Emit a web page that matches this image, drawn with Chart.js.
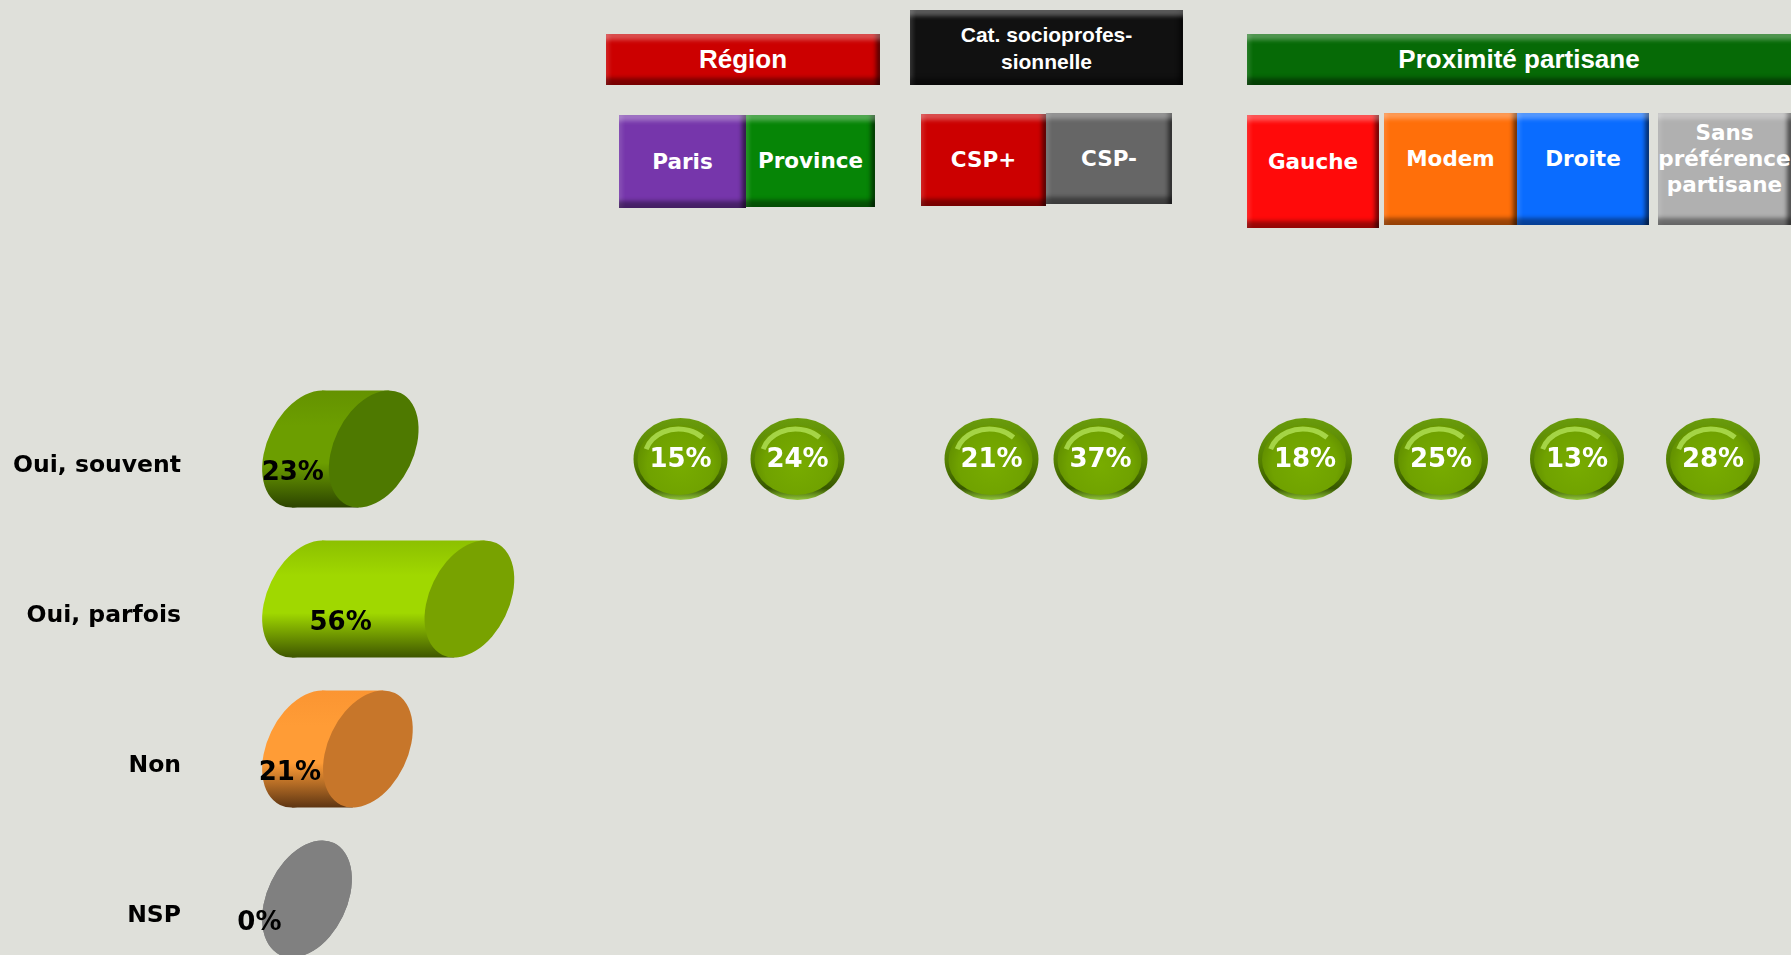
<!DOCTYPE html>
<html lang="fr">
<head>
<meta charset="utf-8">
<title>Oui souvent / parfois</title>
<script src="https://cdn.jsdelivr.net/npm/chart.js@4"></script>
<style>
  html, body { margin: 0; padding: 0; }
  body { background: #dfe0da; }
  #page { position: relative; width: 1791px; height: 955px; overflow: hidden; background: #dfe0da; }
  .box {
    position: absolute; box-sizing: border-box; color: #fff; text-align: center;
    display: flex; align-items: center; justify-content: center; overflow: hidden;
    box-shadow: inset 0 9px 4px -3px rgba(255,255,255,0.3),
                inset 0 -10px 4px -3px rgba(0,0,0,0.4),
                inset -7px 0 4px -3px rgba(0,0,0,0.55),
                inset 6px 0 4px -3px rgba(255,255,255,0.14);
  }
  .head { font: bold 26px "Liberation Sans", Arial, sans-serif; }
  .sub { font: bold 21.5px "DejaVu Sans", Verdana, sans-serif; line-height: 26px; }
  .parti { padding-bottom: 20px; }
  canvas { position: absolute; }
</style>
</head>
<body>
<div id="page">
  <div class="box head" style="left:606px;top:34px;width:274px;height:51px;background:#cc0000">Région</div>
  <div class="box head" style="left:910px;top:10px;width:273px;height:75px;background:#111;font-size:21px;line-height:27px">Cat. socioprofes-<br>sionnelle</div>
  <div class="box head" style="left:1247px;top:34px;width:560px;height:51px;background:#066a06;padding-right:16px">Proximité partisane</div>

  <div class="box sub" style="left:619px;top:115px;width:127px;height:93px;background:#7636ab">Paris</div>
  <div class="box sub" style="left:746px;top:115px;width:129px;height:92px;background:#068506">Province</div>
  <div class="box sub" style="left:921px;top:114px;width:125px;height:92px;background:#cc0000">CSP+</div>
  <div class="box sub" style="left:1046px;top:113px;width:126px;height:91px;background:#666">CSP-</div>
  <div class="box sub parti" style="left:1247px;top:115px;width:132px;height:113px;background:#ff0a0a">Gauche</div>
  <div class="box sub parti" style="left:1384px;top:113px;width:133px;height:112px;background:#ff6f0a">Modem</div>
  <div class="box sub parti" style="left:1517px;top:113px;width:132px;height:112px;background:#0a6cff">Droite</div>
  <div class="box sub parti" style="left:1658px;top:113px;width:133px;height:112px;background:#b0b0b0">Sans<br>préférence<br>partisane</div>

  <canvas id="totalChart" width="597" height="600" style="left:0;top:374px"></canvas>
  <canvas id="regionChart" width="234" height="600" style="left:622px;top:384px"></canvas>
  <canvas id="cspChart" width="218" height="600" style="left:937px;top:384px"></canvas>
  <canvas id="partiChart" width="544" height="600" style="left:1237px;top:384px"></canvas>
</div>

<script>
// réponses et résultats d'ensemble (%)
const answers = ['Oui, souvent', 'Oui, parfois', 'Non', 'NSP'];
const totals = [23, 56, 21, 0];

// "Oui, souvent" par sous-population (%)
const regionLabels = ['Paris', 'Province'];
const regionSouvent = [15, 24];
const cspLabels = ['CSP+', 'CSP-'];
const cspSouvent = [21, 37];
const partiLabels = ['Gauche', 'Modem', 'Droite', 'Sans préférence partisane'];
const partiSouvent = [18, 25, 13, 28];

// couleurs des cylindres : [haut, milieu, bas, face avant]
const cylColors = [
    ['#649200', '#6c9e00', '#2c4400', '#4e7900'],
    ['#8cc000', '#a0d800', '#3e5600', '#78a200'],
    ['#fb9532', '#ff9c36', '#5e3512', '#c7762a'],
    ['#808080', '#808080', '#808080', '#808080']
];

const TILT = 0.45;

// demi-axes d'une ellipse inclinee pour une boite hw x hh
function ellipseAxes(hw, hh) {
    const c2 = Math.cos(TILT) ** 2, s2 = Math.sin(TILT) ** 2;
    const det = c2 * c2 - s2 * s2;
    const a = Math.sqrt((hw * hw * c2 - hh * hh * s2) / det);
    const b = Math.sqrt((hh * hh * c2 - hw * hw * s2) / det);
    return [a, b];
}

function bottomPoint(a, b) {
    const c = Math.cos(TILT), s = Math.sin(TILT);
    const t = Math.atan2(b * c, a * s);
    return [a * Math.cos(t) * c - b * Math.sin(t) * s, a * Math.cos(t) * s + b * Math.sin(t) * c];
}

const cylinderPlugin = {
    id: 'cylinders',
    afterDatasetsDraw(chart) {
        const ctx = chart.ctx;
        const meta = chart.getDatasetMeta(0);
        meta.data.forEach((bar, i) => {
            const hh = bar.height / 2;
            const hw = hh * 0.767;
            const [a, b] = ellipseAxes(hw, hh);
            const [dx, dy] = bottomPoint(a, b);
            const x0 = bar.base, x1 = bar.x, y = bar.y;
            const col = cylColors[i];

            ctx.save();
            const g = ctx.createLinearGradient(0, y - hh, 0, y + hh);
            g.addColorStop(0, col[0]);
            g.addColorStop(0.3, col[1]);
            g.addColorStop(0.62, col[1]);
            g.addColorStop(1, col[2]);
            ctx.fillStyle = g;
            ctx.beginPath();
            ctx.ellipse(x0, y, a, b, TILT, 0, Math.PI * 2);
            ctx.fill();
            ctx.beginPath();
            ctx.moveTo(x0 - dx, y - dy);
            ctx.lineTo(x1 - dx, y - dy);
            ctx.lineTo(x1 + dx, y + dy);
            ctx.lineTo(x0 + dx, y + dy);
            ctx.closePath();
            ctx.fill();

            ctx.fillStyle = col[3];
            ctx.beginPath();
            ctx.ellipse(x1, y, a, b, TILT, 0, Math.PI * 2);
            ctx.fill();

            ctx.fillStyle = '#000';
            ctx.font = 'bold 26px "DejaVu Sans", Verdana, sans-serif';
            ctx.textAlign = 'center';
            ctx.textBaseline = 'middle';
            ctx.fillText(chart.data.datasets[0].data[i] + '%', (x0 + x1) / 2 - hw * 1.06, y + 24);
            ctx.restore();
        });
    }
};

function drawBadge(ctx, cx, cy, text) {
    const rx = 47, ry = 41;
    ctx.save();
    let g = ctx.createLinearGradient(0, cy - ry, 0, cy + ry);
    g.addColorStop(0, '#6a9c0c');
    g.addColorStop(0.55, '#527e00');
    g.addColorStop(0.86, '#375700');
    g.addColorStop(1, '#94c83c');
    ctx.fillStyle = g;
    ctx.beginPath();
    ctx.ellipse(cx, cy, rx, ry, 0, 0, Math.PI * 2);
    ctx.fill();

    const r = ctx.createRadialGradient(cx, cy + 6, 0, cx, cy + 6, rx);
    r.addColorStop(0, '#78ac00');
    r.addColorStop(0.7, '#70a200');
    r.addColorStop(1, '#5f8c00');
    ctx.fillStyle = r;
    ctx.beginPath();
    ctx.ellipse(cx - 1, cy + 1, rx - 5, ry - 6, 0, 0, Math.PI * 2);
    ctx.fill();

    ctx.strokeStyle = 'rgba(190,236,100,0.7)';
    ctx.lineWidth = 5;
    ctx.beginPath();
    ctx.ellipse(cx - 2, cy - 1, rx - 13, ry - 12, 0, Math.PI * 1.1, Math.PI * 1.75);
    ctx.stroke();

    ctx.fillStyle = '#fff';
    ctx.font = 'bold 26px "DejaVu Sans", Verdana, sans-serif';
    ctx.textAlign = 'center';
    ctx.textBaseline = 'middle';
    ctx.fillText(text, cx, cy + 1);
    ctx.restore();
}

const badgePlugin = {
    id: 'badges',
    afterDatasetsDraw(chart) {
        const ds = chart.data.datasets[0];
        chart.getDatasetMeta(0).data.forEach((pt, i) => {
            drawBadge(chart.ctx, pt.x, pt.y, ds.values[i] + '%');
        });
    }
};

new Chart(document.getElementById('totalChart'), {
    type: 'bar',
    data: {
        labels: answers,
        datasets: [{
            data: totals,
            backgroundColor: 'rgba(0,0,0,0)',
            barPercentage: 0.78,
            categoryPercentage: 1
        }]
    },
    options: {
        indexAxis: 'y',
        responsive: false,
        animation: false,
        layout: { padding: 0, autoPadding: false },
        plugins: { legend: { display: false }, tooltip: { enabled: false } },
        scales: {
            x: { display: false, min: 0, max: 100 },
            y: {
                grid: { display: false },
                border: { display: false },
                ticks: {
                    padding: 118,
                    labelOffset: 17,
                    color: '#000',
                    font: { family: 'DejaVu Sans', weight: 'bold', size: 23.5 }
                },
                afterFit(scale) {
                    scale.width = 307;
                    scale.paddingTop = 0;
                    scale.paddingBottom = 0;
                }
            }
        }
    },
    plugins: [cylinderPlugin]
});

function subgroupChart(id, labels, values) {
    new Chart(document.getElementById(id), {
        type: 'line',
        data: {
            labels: labels,
            datasets: [{
                data: labels.map(l => ({ x: l, y: answers[0] })),
                values: values,
                showLine: false,
                pointRadius: 0
            }]
        },
        options: {
            responsive: false,
            animation: false,
            layout: { padding: 0, autoPadding: false },
            plugins: { legend: { display: false }, tooltip: { enabled: false } },
            scales: {
                x: { type: 'category', labels: labels, offset: true, display: false },
                y: { type: 'category', labels: answers, offset: true, display: false }
            }
        },
        plugins: [badgePlugin]
    });
}

subgroupChart('regionChart', regionLabels, regionSouvent);
subgroupChart('cspChart', cspLabels, cspSouvent);
subgroupChart('partiChart', partiLabels, partiSouvent);
</script>
</body>
</html>
